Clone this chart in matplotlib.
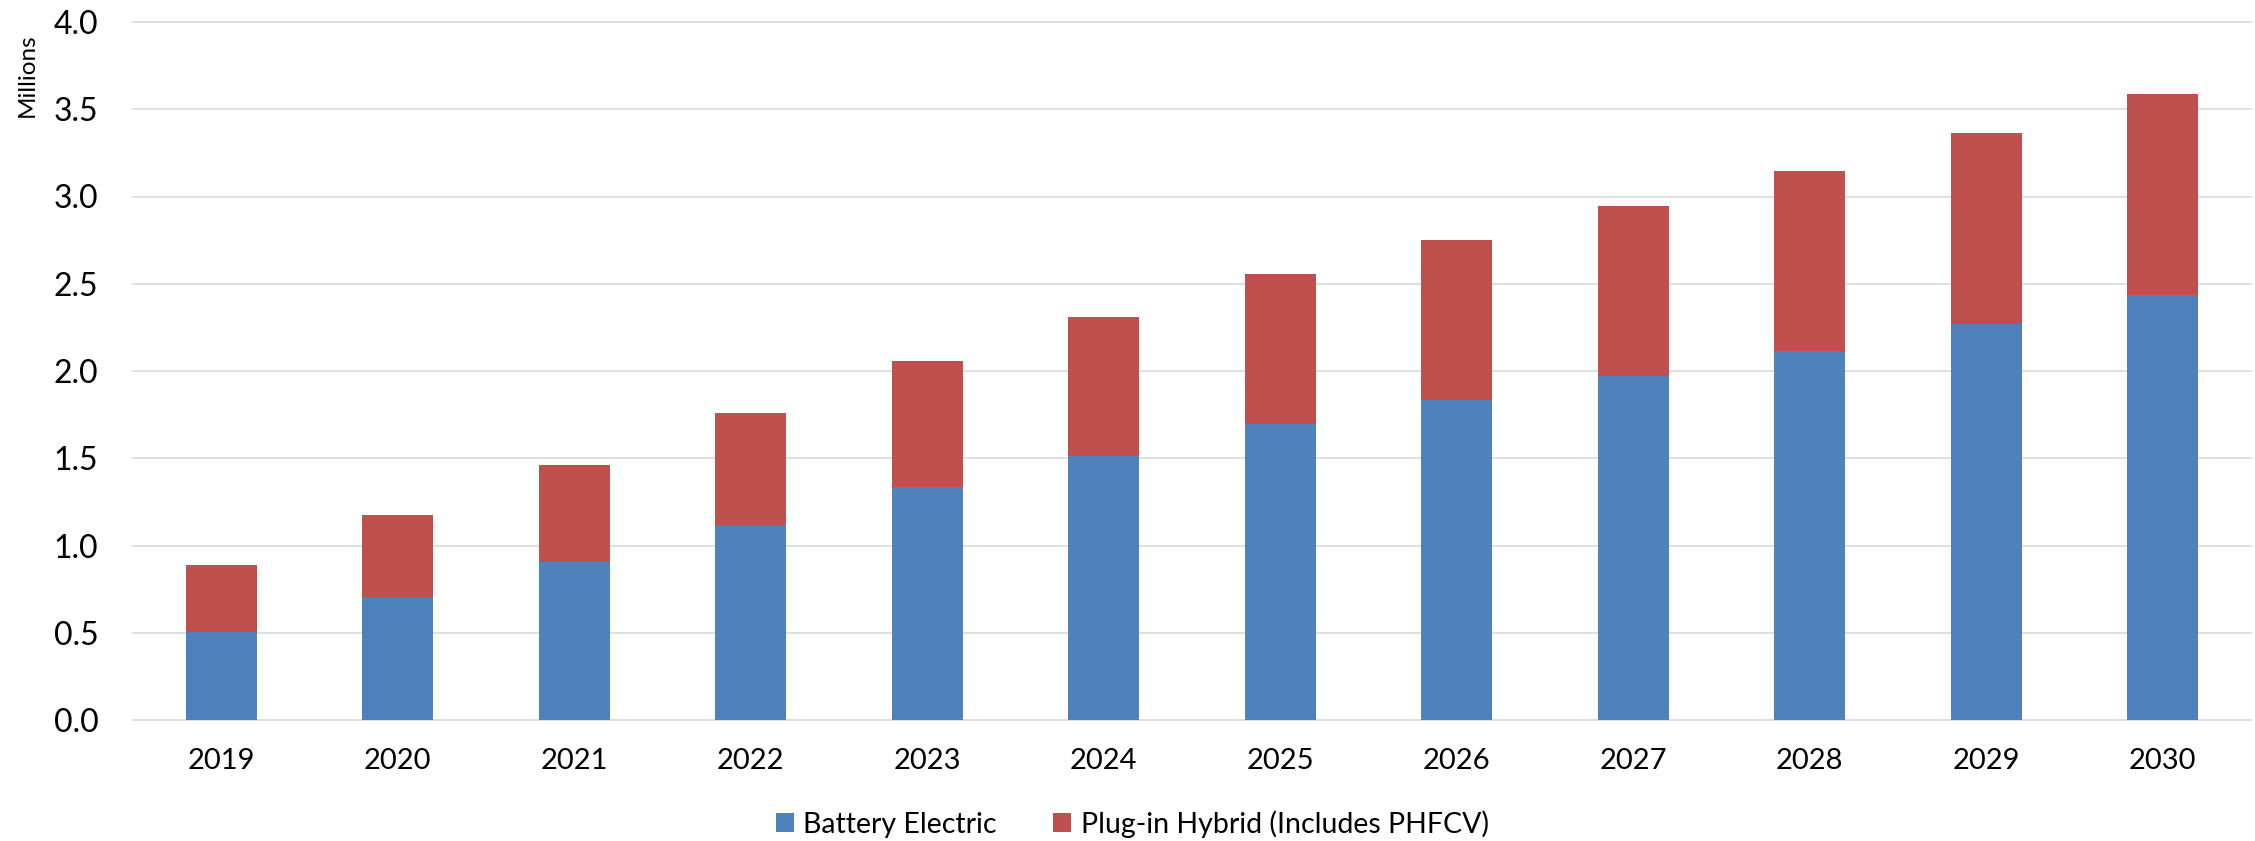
#! /usr/bin/env python
#
# Stacked bar chart: battery electric vs plug-in hybrid, millions of vehicles
#
import matplotlib
matplotlib.use("Agg")
import matplotlib.pyplot as plt
import numpy as np

plt.rcParams['font.family'] = ['Lato', 'DejaVu Sans']

years = ['2019', '2020', '2021', '2022', '2023', '2024',
         '2025', '2026', '2027', '2028', '2029', '2030']
bev  = [0.506, 0.703, 0.905, 1.117, 1.333, 1.514,
        1.694, 1.831, 1.969, 2.113, 2.272, 2.434]
phev = [0.382, 0.473, 0.555, 0.640, 0.725, 0.794,
        0.864, 0.922, 0.979, 1.035, 1.090, 1.151]
yticks = [0.0, 0.5, 1.0, 1.5, 2.0, 2.5, 3.0, 3.5, 4.0]

blue = '#4F81BD'
red  = '#C0504D'
grid = '#D9D9D9'

W, H = 2255, 841
fig = plt.figure(figsize=(W/100, H/100), dpi=100)
ax = fig.add_axes([133/W, 1-720/H, (2251-133)/W, (720-22)/H])

x = np.arange(len(years))
ax.bar(x, bev, 0.4, color=blue, label='Battery Electric', zorder=2)
ax.bar(x, phev, 0.4, bottom=bev, color=red,
       label='Plug-in Hybrid (Includes PHFCV)', zorder=2)

ax.set_xlim(-0.5, len(years)-0.5)
ax.set_ylim(0, 4.0)
ax.set_yticks(yticks)
ax.set_yticklabels(["%.1f" % v for v in yticks])
ax.set_xticks(x)
ax.set_xticklabels(years)

ax.grid(axis='y', color=grid, lw=1.2, zorder=0)
ax.set_axisbelow(True)
for s in ax.spines.values():
    s.set_visible(False)
ax.tick_params(axis='y', length=0, pad=25, labelsize=23)
ax.tick_params(axis='x', length=0, pad=20, labelsize=21)
for gl in ax.get_ygridlines():
    gl.set_clip_on(False)

fig.text(27/W, 1-75/H, 'Millions', rotation=90, ha='center', va='center',
         fontsize=17.5)

fig.legend(loc='center left', bbox_to_anchor=(776/W, 1-824/H), ncol=2,
           frameon=False, fontsize=20.5, borderpad=0, borderaxespad=0,
           handlelength=0.63, handleheight=0.63, handletextpad=0.32,
           columnspacing=2.0)

plt.savefig('out.png', dpi=100)
